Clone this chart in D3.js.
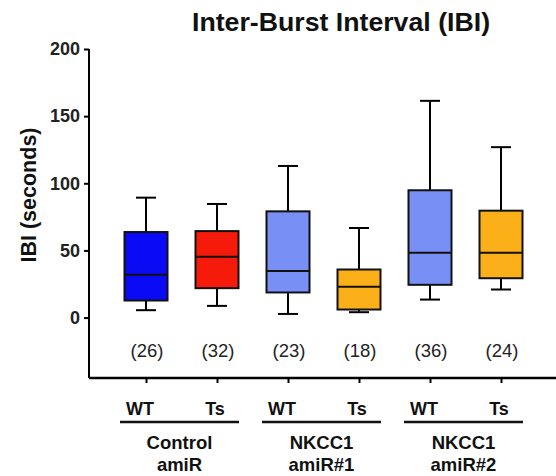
<!DOCTYPE html>
<html><head><meta charset="utf-8">
<script src="https://cdn.jsdelivr.net/npm/d3@7"></script>
<style>body{margin:0;background:#fff}svg{display:block}text{font-family:"Liberation Sans",Arial,sans-serif}</style>
</head><body><svg id="c" width="556" height="476"></svg>
<script>
const categories = ["WT1","Ts1","WT2","Ts2","WT3","Ts3"];
const genotypes = ["WT","Ts","WT","Ts","WT","Ts"];
const groups = [["Control","amiR"],["NKCC1","amiR#1"],["NKCC1","amiR#2"]];
const whiskerMin = [5.5, 8.7, 2.7, 4, 13.4, 20.9];
const q1 = [12.7, 21.9, 18.7, 6, 24.4, 29.3];
const median = [31.9, 45.3, 34.6, 22.9, 48.3, 48.3];
const q3 = [63.7, 64.4, 79.1, 35.8, 94.8, 79.6];
const whiskerMax = [89.3, 84.6, 112.9, 66.7, 161.4, 126.9];
const counts = ["(26)","(32)","(23)","(18)","(36)","(24)"];
const colors = ["#0a0af5","#f51a0a","#7890f5","#fbb01a","#7890f5","#fbb01a"];
const yTicks = [0,50,100,150,200];

const svg = d3.select("#c");
const left = 89, right = 556, bottom = 378;
const y = d3.scaleLinear().domain([-45, 200]).range([bottom, 49]);
const x = d3.scalePoint().domain(categories).range([146, 501]);
const bw = 43;

svg.append("text").attr("x", 341).attr("y", 31).attr("text-anchor","middle")
  .attr("font-size", 26.7).attr("font-weight","bold").attr("fill","#111").text("Inter-Burst Interval (IBI)");
svg.append("text").attr("transform","translate(36,195) rotate(-90)").attr("text-anchor","middle")
  .attr("font-size", 21.5).attr("font-weight","bold").attr("fill","#111").text("IBI (seconds)");

const ya = svg.append("g").attr("transform",`translate(${left},0)`)
  .call(d3.axisLeft(y).tickValues(yTicks).tickSize(5).tickPadding(4));
ya.select(".domain").attr("d", `M0,${y(200)}V${bottom}`).attr("stroke","#000").attr("stroke-width",2);
ya.selectAll(".tick line").attr("stroke-width",2);
ya.selectAll(".tick text").attr("font-size",18).attr("font-weight","bold").attr("fill","#222")
  .style("font-family","Liberation Sans, Arial, sans-serif");

const xa = svg.append("g").attr("transform",`translate(0,${bottom})`)
  .call(d3.axisBottom(x).tickSize(5).tickFormat(""));
xa.select(".domain").attr("d", `M${left},0H${right}`).attr("stroke","#000").attr("stroke-width",2.5);
xa.selectAll(".tick line").attr("stroke-width",2);

const g = svg.append("g");
categories.forEach((c,i) => {
  const cx = x(c);
  g.append("line").attr("x1",cx).attr("x2",cx).attr("y1",y(whiskerMax[i])).attr("y2",y(q3[i])).attr("stroke","#000").attr("stroke-width",2);
  g.append("line").attr("x1",cx).attr("x2",cx).attr("y1",y(q1[i])).attr("y2",y(whiskerMin[i])).attr("stroke","#000").attr("stroke-width",2);
  g.append("line").attr("x1",cx-10).attr("x2",cx+10).attr("y1",y(whiskerMax[i])).attr("y2",y(whiskerMax[i])).attr("stroke","#000").attr("stroke-width",2);
  g.append("line").attr("x1",cx-10).attr("x2",cx+10).attr("y1",y(whiskerMin[i])).attr("y2",y(whiskerMin[i])).attr("stroke","#000").attr("stroke-width",2);
  g.append("rect").attr("x",cx-bw/2).attr("y",y(q3[i])).attr("width",bw).attr("height",y(q1[i])-y(q3[i]))
    .attr("fill",colors[i]).attr("stroke","#111").attr("stroke-width",2);
  g.append("line").attr("x1",cx-bw/2).attr("x2",cx+bw/2).attr("y1",y(median[i])).attr("y2",y(median[i])).attr("stroke","#111").attr("stroke-width",2);
  g.append("text").attr("x",cx+1).attr("y",357).attr("text-anchor","middle").attr("font-size",18.5).attr("fill","#222").text(counts[i]);
  g.append("text").attr("x",cx + (i%2===0 ? -6 : -2)).attr("y",415).attr("text-anchor","middle").attr("font-size",18).attr("font-weight","bold").attr("fill","#111").text(genotypes[i]);
});

groups.forEach((lab,k) => {
  const x0 = x(categories[2*k]), x1 = x(categories[2*k+1]);
  const mid = (x0+x1)/2 - 2;
  svg.append("line").attr("x1",x0-26).attr("x2",x1+22).attr("y1",422).attr("y2",422).attr("stroke","#111").attr("stroke-width",2.5);
  svg.append("text").attr("x",mid).attr("y",449).attr("text-anchor","middle").attr("font-size",18.5).attr("font-weight","bold").attr("fill","#111").text(lab[0]);
  svg.append("text").attr("x",mid).attr("y",471).attr("text-anchor","middle").attr("font-size",18.5).attr("font-weight","bold").attr("fill","#111").text(lab[1]);
});
</script></body></html>
